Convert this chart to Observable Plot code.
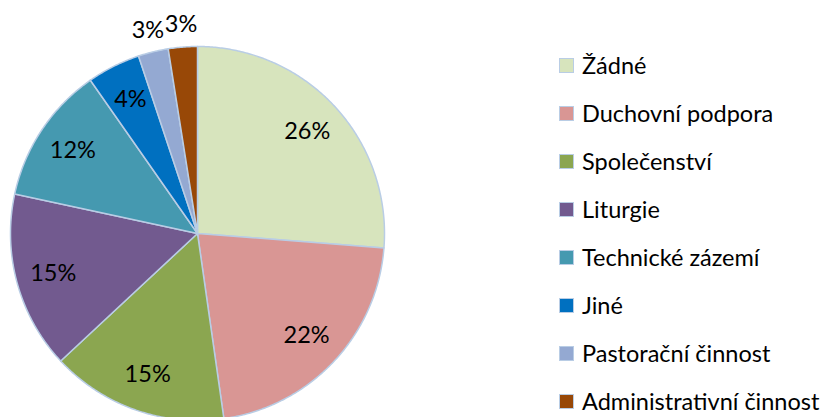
<!DOCTYPE html>
<html>
<head>
<meta charset="utf-8">
<script src="https://cdn.jsdelivr.net/npm/d3@7"></script>
<script src="https://cdn.jsdelivr.net/npm/@observablehq/plot@0.6"></script>
<style>
  html, body { margin: 0; padding: 0; background: #fff; }
  #wrap { position: relative; width: 834px; height: 417px; overflow: hidden; font-family: Lato, "Open Sans", sans-serif; }
  #chart { position: absolute; left: 0; top: 0; }
  #legend { position: absolute; left: 559px; top: 41px; }
  .row { height: 48px; display: flex; align-items: center; font-size: 23.5px; color: #000; white-space: nowrap; }
  .sw { width: 13px; height: 13px; border: 1px solid #b9cde5; margin-right: 8px; box-sizing: content-box; }
</style>
</head>
<body>
<div id="wrap">
  <div id="chart"></div>
  <div id="legend"></div>
</div>
<script>
// ---- data ----
const categories = ["Žádné", "Duchovní podpora", "Společenství", "Liturgie", "Technické zázemí", "Jiné", "Pastorační činnost", "Administrativní činnost"];
const values = [26.2, 21.5, 15.3, 15.3, 11.9, 4.6, 2.6, 2.5];
const labels = ["26%", "22%", "15%", "15%", "12%", "4%", "3%", "3%"];
const colors = ["#D7E4BD", "#D99694", "#8BA650", "#725A8F", "#4599B0", "#0070C0", "#94A9D2", "#984807"];

// ---- layout ----
const cx = 197, cy = 233, R = 187;
const total = d3.sum(values);
const pts = [];
const labelPts = [];
let start = 0;
values.forEach((v, i) => {
  const a0 = start / total * 2 * Math.PI;
  const a1 = (start + v) / total * 2 * Math.PI;
  start += v;
  const n = Math.max(4, Math.ceil((a1 - a0) / (Math.PI / 360)));
  pts.push({name: categories[i], x: 0, y: 0});
  for (let k = 0; k <= n; k++) {
    const a = a0 + (a1 - a0) * k / n;
    pts.push({name: categories[i], x: Math.sin(a), y: Math.cos(a)});
  }
  pts.push({name: categories[i], x: 0, y: 0});
  const am = (a0 + a1) / 2;
  const rf = v / total < 0.04 ? 1.12 : 0.8;
  labelPts.push({label: labels[i], x: rf * Math.sin(am), y: rf * Math.cos(am)});
});

const chart = Plot.plot({
  width: 834,
  height: 417,
  style: {fontFamily: "Lato, 'Open Sans', sans-serif", background: "transparent", overflow: "visible"},
  x: {type: "linear", domain: [-1, 1], range: [cx - R, cx + R], axis: null},
  y: {type: "linear", domain: [-1, 1], range: [cy + R, cy - R], axis: null},
  color: {domain: categories, range: colors},
  marks: [
    Plot.line(pts, {x: "x", y: "y", z: "name", fill: "name", stroke: "#b9cde5", strokeWidth: 1.5, strokeLinejoin: "round"}),
    Plot.text(labelPts, {x: "x", y: "y", text: "label", fontSize: 23.5, fill: "#000"})
  ]
});
document.getElementById("chart").appendChild(chart);

const legend = d3.select("#legend");
categories.forEach((c, i) => {
  const row = legend.append("div").attr("class", "row");
  row.append("div").attr("class", "sw").style("background", colors[i]);
  row.append("span").text(c);
});
</script>
</body>
</html>
